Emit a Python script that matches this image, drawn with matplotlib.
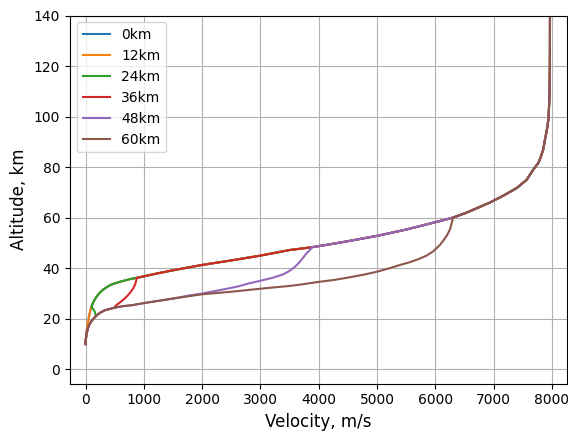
import numpy as np
import matplotlib
matplotlib.use("Agg")
import matplotlib.pyplot as plt

# shared high-altitude part of every trajectory (140 km -> 60 km)
top_v = [7968, 7967, 7962, 7945, 7925, 7900, 7875, 7852, 7810, 7767, 7681, 7568, 7396, 7166, 6938, 6767, 6538, 6300]
top_h = [140, 122, 110, 100, 96, 93, 90, 87, 84, 81.6, 79, 75, 71.7, 68.7, 66, 64.3, 62, 60]

# 60 km -> 48.5 km
mid_v = [6000, 5500, 5000, 4500, 4200, 3880]
mid_h = [58.2, 55.3, 52.8, 50.7, 49.5, 48.3]

# 48.5 km -> 36.2 km
low_v = [3500, 3000, 2500, 2000, 1500, 1200, 1000, 880]
low_h = [47.2, 45.0, 43.1, 41.3, 39.2, 37.8, 36.8, 36.2]

# upper-left bend down to ~25 km
bend_v = [780, 700, 600, 500, 420, 350, 290, 250, 210, 180, 150, 130, 110, 100]
bend_h = [35.8, 35.3, 34.7, 34.0, 33.3, 32.3, 31.3, 30.4, 29.4, 28.4, 27.3, 26.3, 25.3, 24.7]

# steep drop to ground
drop_v = [88, 77, 62, 48, 35, 25, 16, 10, 4, 0]
drop_h = [23.8, 22.7, 21.1, 19.4, 17.7, 16.0, 14.5, 13.0, 11.5, 10.0]

# lower common tail
tail_v = [1500, 1250, 1000, 800, 650, 563, 450, 334, 250, 200, 163, 120, 95, 77, 60, 45, 30, 20, 12, 6, 0]
tail_h = [28.0, 27.1, 26.2, 25.4, 25.0, 24.7, 24.1, 23.4, 22.4, 21.5, 20.7, 19.6, 18.8, 18.1, 17.3, 16.5, 15.2, 14.2, 13.0, 11.8, 10.0]

# branches for each release altitude
br60_v = [6295, 6281, 6255, 6200, 6140, 6080, 5960, 5850, 5700, 5550, 5395, 5200, 4995, 4800, 4600, 4400, 4245, 4000, 3680, 3500, 3000, 2500, 2000]
br60_h = [59.0, 57.8, 55.5, 53.0, 51.0, 49.2, 46.6, 45.0, 43.5, 42.3, 41.3, 39.9, 38.6, 37.6, 36.7, 35.9, 35.3, 34.6, 33.5, 33.0, 31.9, 30.7, 29.7]
br48_v = [3860, 3830, 3794, 3740, 3679, 3620, 3564, 3480, 3393, 3300, 3221, 3100, 2993, 2800, 2650, 2450, 2250, 2000, 1750]
br48_h = [47.5, 46.8, 46.0, 44.4, 42.6, 41.2, 40.0, 38.7, 37.6, 36.9, 36.3, 35.6, 35.0, 34.0, 33.0, 32.0, 31.1, 30.0, 29.1]
br36_v = [870, 860, 850, 830, 800, 760, 720, 680, 630, 580, 530, 490]
br36_h = [35.3, 34.3, 33.6, 32.5, 31.4, 30.2, 29.1, 28.2, 27.2, 26.3, 25.4, 24.4]
br24_v = [110, 125, 140, 152, 163, 170, 176]
br24_h = [24.5, 24.1, 23.6, 23.1, 22.5, 21.9, 21.2]

labels = ["0km", "12km", "24km", "36km", "48km", "60km"]


def join(*parts):
    return np.concatenate([np.asarray(p, dtype=float) for p in parts])


def tail_from(v_max):
    v = np.array(tail_v, dtype=float)
    h = np.array(tail_h, dtype=float)
    keep = v < v_max
    return v[keep], h[keep]


t48 = tail_from(1750)
t36 = tail_from(490)
t24 = tail_from(165)

series = [
    (join(top_v, mid_v, low_v, bend_v, drop_v), join(top_h, mid_h, low_h, bend_h, drop_h)),
    (join(top_v, mid_v, low_v, bend_v, drop_v), join(top_h, mid_h, low_h, bend_h, drop_h)),
    (join(top_v, mid_v, low_v, bend_v, br24_v, t24[0]), join(top_h, mid_h, low_h, bend_h, br24_h, t24[1])),
    (join(top_v, mid_v, low_v, br36_v, t36[0]), join(top_h, mid_h, low_h, br36_h, t36[1])),
    (join(top_v, mid_v, br48_v, t48[0]), join(top_h, mid_h, br48_h, t48[1])),
    (join(top_v, br60_v, tail_v), join(top_h, br60_h, tail_h)),
]

fig = plt.figure(figsize=(5.68, 4.32), dpi=100)
ax = fig.add_axes([70 / 568, 48.5 / 432, 497 / 568, 368 / 432])

for (v, h), lab in zip(series, labels):
    ax.plot(v, h, label=lab)

ax.set_xlim(-266, 8260)
ax.set_ylim(-5.6, 140)
ax.grid(True)
ax.set_xlabel("Velocity, m/s", fontsize=12)
ax.set_ylabel("Altitude, km", fontsize=12)
ax.legend(loc="upper left")

fig.savefig("out.png", dpi=100)
